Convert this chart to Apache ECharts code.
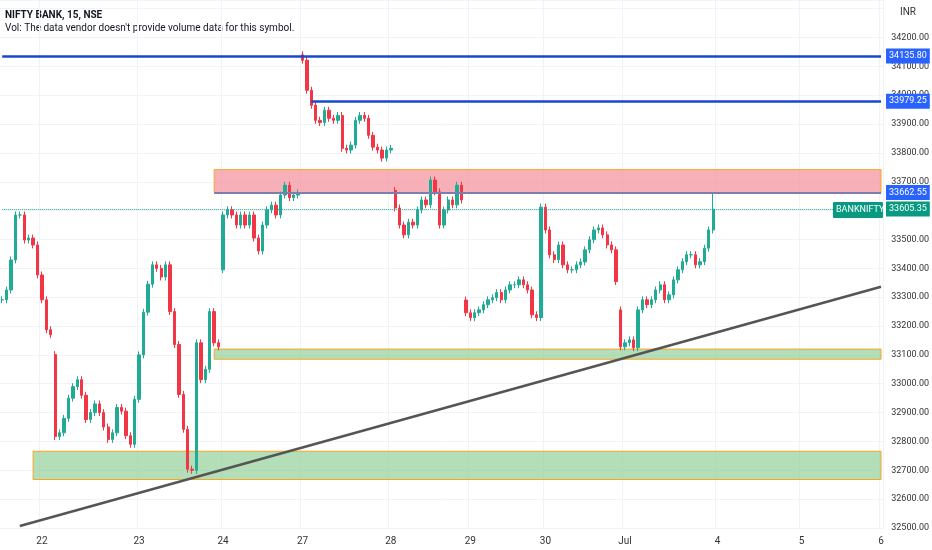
<!DOCTYPE html>
<html>
<head>
<meta charset="utf-8">
<script src="https://cdn.jsdelivr.net/npm/echarts@6/dist/echarts.min.js"></script>
<style>html,body{margin:0;padding:0;background:#fff}#main{width:932px;height:550px}</style>
</head>
<body>
<div id="main"></div>
<script>
var chart = echarts.init(document.getElementById('main'));

// 收盘价（15分钟K线，从图上读取）
var closes = [
    33291, 33325, 33429, 33585, 33585, 33498, 33505, 33481, 33377, 33291, 33187, 33170,
    32817, 32830, 32880, 32950, 32990, 33014, 32960, 32876, 32900, 32930, 32900, 32850, 32807, 32830, 32918, 32905, 32820, 32790,
    32946, 33100, 33248, 33345, 33412, 33400, 33370, 33412, 33250, 33136, 32963, 32842, 32704, 32700, 33142, 33014, 33050, 33250, 33142, 33128,
    33585, 33603, 33585, 33550, 33585, 33550, 33585, 33505, 33460, 33550, 33603, 33619, 33585, 33654, 33688, 33645, 33654, 33661,
    34121, 34017, 33965, 33913, 33905, 33948, 33920, 33913, 33930, 33816, 33810, 33827, 33913, 33930, 33920, 33861, 33820, 33810, 33782, 33810, 33816,
    33609, 33550, 33516, 33560, 33550, 33602, 33637, 33620, 33706, 33665, 33550, 33602, 33637, 33620, 33688, 33637,
    33246, 33229, 33246, 33256, 33274, 33291, 33298, 33316, 33291, 33325, 33343, 33343, 33360, 33343, 33325, 33239, 33229,
    33612, 33533, 33447, 33430, 33481, 33412, 33395, 33395, 33412, 33422, 33464, 33499, 33533, 33540, 33516, 33481, 33464, 33354,
    33128, 33142, 33152, 33125, 33256, 33291, 33274, 33291, 33325, 33343, 33291, 33308, 33360, 33395, 33423, 33447, 33447, 33412, 33423, 33470, 33533, 33605
];
// 跳空开盘
var gapOpens = { 12: 33101, 50: 33395, 68: 34140, 89: 33670, 105: 33290, 140: 33256 };
var extraHighs = { 161: 33662 };
var dayLabels = { 9: '22', 31: '23', 50: '24', 68: '27', 88: '28', 106: '29', 123: '30', 141: 'Jul', 162: '4', 181: '5', 199: '6' };
var totalBars = 200;

var zones = [
    { from: 33662, to: 33742, start: 48, color: 'rgba(246,150,160,0.75)' },
    { from: 33085, to: 33120, start: 48, color: 'rgba(140,205,145,0.65)' },
    { from: 32668, to: 32766, start: 7, color: 'rgba(140,205,145,0.65)' }
];
var levels = [
    { value: 34135.80, start: 0 },
    { value: 33979.25, start: 70 }
];
var lastPrice = 33605.35;
var zoneLine = 33662.55;
var trend = [[4, 32507], [199, 33336]];

var cats = [];
for (var i = 0; i < totalBars; i++) cats.push(dayLabels[i] || '');

var candles = closes.map(function (c, i) {
    var o = gapOpens[i] !== undefined ? gapOpens[i] : (i > 0 ? closes[i - 1] : c);
    var hi = Math.max(o, c) + 12, lo = Math.min(o, c) - 12;
    if (extraHighs[i]) hi = extraHighs[i];
    return [o, c, lo, hi];
});

var tagStyle = function (bg, v) {
    return { show: true, position: 'end', distance: 5, color: '#fff', backgroundColor: bg,
        padding: [3, 3], fontSize: 9, fontFamily: 'Roboto', formatter: v.toFixed(2) };
};

chart.setOption({
    animation: false,
    grid: { left: 0, right: 44, top: 0, bottom: 22 },
    xAxis: {
        type: 'category', data: cats, boundaryGap: true,
        axisLine: { show: false }, axisTick: { show: false },
        axisLabel: { interval: function (i, v) { return v !== ''; }, color: '#333', fontSize: 10, fontFamily: 'Roboto' },
        splitLine: { show: true, interval: function (i, v) { return v !== ''; }, lineStyle: { color: '#f0f3fa' } }
    },
    yAxis: {
        type: 'value', position: 'right', min: 32500, max: 34330, interval: 100,
        axisLine: { show: false }, axisTick: { show: false },
        axisLabel: { color: '#333', fontSize: 9, fontFamily: 'Roboto', margin: 8,
            formatter: function (v) { return v > 34250 ? '' : v.toFixed(2); } },
        splitLine: { lineStyle: { color: '#f0f3fa' } }
    },
    series: [{
        type: 'candlestick', data: candles, barWidth: '65%',
        itemStyle: { color: '#22ab94', color0: '#f23645', borderColor: '#22ab94', borderColor0: '#f23645', borderWidth: 1 },
        markArea: {
            silent: true,
            data: zones.map(function (z) {
                return [{ xAxis: z.start, yAxis: z.to, itemStyle: { color: z.color, borderColor: '#f5a623', borderWidth: 1 } },
                        { xAxis: totalBars - 1, yAxis: z.from }];
            })
        },
        markLine: {
            silent: true, symbol: 'none',
            data: levels.map(function (l) {
                return [{ coord: [l.start, l.value], lineStyle: { color: '#1848cc', width: 2.5, type: 'solid' }, label: tagStyle('#2962ff', l.value) },
                        { coord: [totalBars - 1, l.value] }];
            }).concat([
                [{ coord: [48, zoneLine], lineStyle: { color: '#7a7fb0', width: 2, type: 'solid' }, label: tagStyle('#2962ff', zoneLine) },
                 { coord: [totalBars - 1, zoneLine] }],
                [{ coord: [0, lastPrice], lineStyle: { color: '#22ab94', width: 1, type: 'dotted' }, label: tagStyle('#089981', lastPrice) },
                 { coord: [totalBars - 1, lastPrice] }],
                [{ coord: trend[0], lineStyle: { color: '#555', width: 2.5, type: 'solid' }, label: { show: false } },
                 { coord: trend[1] }]
            ])
        }
    }],
    graphic: [
        { type: 'text', left: 5, top: 10, style: { text: 'NIFTY BANK, 15, NSE', fontSize: 10, fontWeight: 'bold', fill: '#131722', fontFamily: 'Roboto' } },
        { type: 'text', left: 5, top: 23, style: { text: "Vol: The data vendor doesn't provide volume data for this symbol.", fontSize: 10, fill: '#131722', fontFamily: 'Roboto' } },
        { type: 'text', left: 900, top: 7, style: { text: 'INR', fontSize: 10, fill: '#333', fontFamily: 'Roboto' } },
        { type: 'group', z: 100, children: [
            { type: 'rect', left: 833, top: 202, z: 100, shape: { width: 50, height: 16, r: 1 }, style: { fill: '#089981' } },
            { type: 'text', left: 836, top: 205, z: 101, style: { text: 'BANKNIFTY', fontSize: 9, fill: '#fff', fontFamily: 'Roboto' } }
        ] }
    ]
});
</script>
</body>
</html>
